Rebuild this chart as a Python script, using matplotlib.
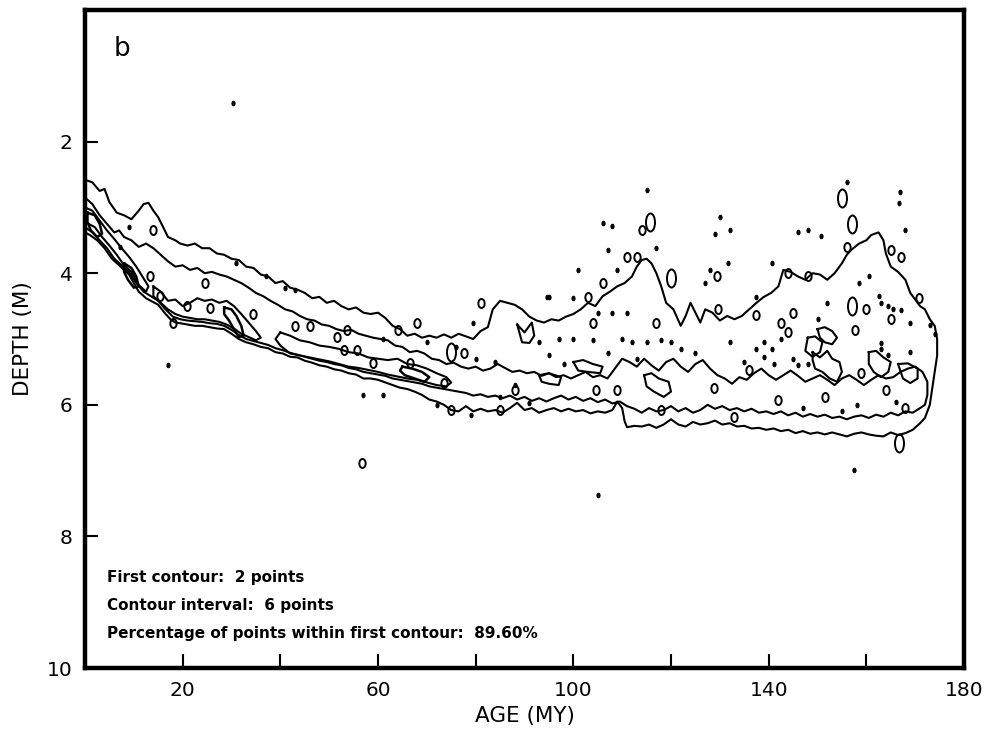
#! /usr/bin/env python
# -*- coding: utf-8 -*-

# Contour plot of ocean depth against crustal age (panel b).
# Contour lines are stored as (age, depth) vertex lists.

import matplotlib
matplotlib.use("Agg")
import matplotlib.pyplot as plt
import numpy as np
from matplotlib.path import Path
from matplotlib.transforms import Affine2D

# first contour (2 points): upper edge, left to right
outer_top = [
    (0, 2.58), (1.5, 2.62), (3, 2.75), (4, 2.72), (5, 2.92), (6.5, 3.08), (8, 3.12),
    (9.5, 3.18), (11, 3.05), (12, 2.95), (13, 2.93), (14, 3.05), (15, 3.15), (16, 3.3),
    (17, 3.45), (18.5, 3.5), (19.5, 3.55), (21, 3.58), (22.5, 3.55), (24, 3.62),
    (25.5, 3.62), (27, 3.7), (28.5, 3.72), (30, 3.78), (31.5, 3.8), (33, 3.9),
    (34.5, 3.92), (36, 4.02), (37.5, 4.05), (39, 4.15), (40.5, 4.12), (42, 4.22),
    (43.5, 4.25), (45, 4.3), (46.5, 4.38), (48, 4.36), (49.5, 4.45), (51, 4.42),
    (52.5, 4.5), (54, 4.55), (55.5, 4.52), (57, 4.6), (58.5, 4.62), (60, 4.6),
    (61.5, 4.68), (63, 4.8), (64.5, 4.85), (66, 4.95), (67.5, 4.92), (69, 4.98),
    (70.5, 4.95), (72, 4.98), (73.5, 4.93), (75, 4.98), (76.5, 4.92), (78, 4.96),
    (79.5, 5.0), (81, 4.88), (82.5, 4.82), (83.5, 4.55), (85, 4.42), (86.5, 4.45),
    (88, 4.48), (89.5, 4.55), (91, 4.66), (92.5, 4.72), (94, 4.75), (95.5, 4.7),
    (97, 4.72), (98.5, 4.66), (100, 4.62), (101.5, 4.55), (103, 4.45), (104.5, 4.5),
    (106, 4.35), (107.5, 4.28), (109, 4.2), (110.5, 4.15), (112, 4.05), (113, 3.9),
    (114, 3.8), (115, 3.78), (116, 3.85), (117, 4.0), (118, 4.2), (119, 4.45),
    (120.5, 4.55), (122, 4.8), (123, 4.65), (124, 4.45), (125, 4.6), (126, 4.75),
    (127, 4.55), (128.5, 4.6), (130, 4.72), (131.5, 4.65), (133, 4.7), (134.5, 4.65),
    (136, 4.55), (137.5, 4.45), (139, 4.36), (140.5, 4.3), (142, 4.2), (143, 3.95),
    (144.5, 3.98), (146, 4.05), (147.5, 4.1), (149, 4.0), (150.5, 4.02), (152, 4.1),
    (153.5, 4.0), (155, 3.85), (156, 3.72), (157, 3.64), (158.5, 3.55), (160, 3.5),
    (161, 3.42), (162.5, 3.38), (163.5, 3.5), (164, 3.7), (165, 3.9), (166.5, 3.98),
    (168, 4.1), (169, 4.3), (170, 4.4), (171, 4.5), (172, 4.55), (173, 4.7),
    (174, 4.8), (174.5, 5.0), (174.5, 5.25), (174, 5.5), (173.5, 5.75), (173, 6.0),
    (172, 6.2), (171, 6.28),
]
# first contour: lower edge, right to left
outer_bottom = [
    (169.5, 6.38), (168, 6.43), (166.5, 6.46), (165, 6.42), (163.5, 6.48), (162, 6.47),
    (160.5, 6.45), (159, 6.42), (157.5, 6.44), (156, 6.48), (154.5, 6.45), (153, 6.42),
    (151.5, 6.45), (150, 6.42), (148.5, 6.44), (147, 6.4), (145.5, 6.43), (144, 6.38),
    (142.5, 6.4), (141, 6.36), (139.5, 6.38), (138, 6.35), (136.5, 6.36), (135, 6.32),
    (133.5, 6.33), (132, 6.28), (130.5, 6.3), (129, 6.24), (127.5, 6.28), (126, 6.3),
    (124.5, 6.26), (123, 6.33), (121.5, 6.3), (120, 6.22), (118.5, 6.3), (117, 6.35),
    (115.5, 6.3), (114, 6.33), (112.5, 6.32), (111, 6.34), (110.5, 6.25), (110, 6.05),
    (109, 5.95), (108, 6.08), (106.5, 6.12), (105, 6.1), (103.5, 6.13), (102, 6.08),
    (100.5, 6.1), (99, 6.06), (97.5, 6.1), (96, 6.05), (94.5, 6.08), (93, 6.12),
    (91.5, 6.05), (90, 6.08), (88.5, 5.97), (87, 6.05), (85.5, 6.12), (84, 6.08),
    (82.5, 6.1), (81, 6.06), (79.5, 6.1), (78, 6.02), (76.5, 6.1), (75, 6.08),
    (73.5, 6.0), (72, 5.95), (70.5, 5.92), (69, 5.85), (67.5, 5.8), (66, 5.76),
    (64.5, 5.74), (63, 5.7), (61.5, 5.66), (60, 5.62), (58.5, 5.6), (57, 5.6),
    (55.5, 5.54), (54, 5.52), (52.5, 5.48), (51, 5.46), (49.5, 5.42), (48, 5.4),
    (46.5, 5.36), (45, 5.33), (43.5, 5.28), (42, 5.27), (40.5, 5.22), (39, 5.2),
    (37.5, 5.14), (36, 5.12), (34.5, 5.08), (33, 5.05), (31.5, 5.0), (30, 4.92),
    (28.5, 4.85), (27, 4.84), (25.5, 4.82), (24, 4.8), (22.5, 4.8), (21, 4.78),
    (19.5, 4.76), (18.5, 4.75), (17.5, 4.7), (16.5, 4.62), (15, 4.48), (13.5, 4.42),
    (12.5, 4.38), (11, 4.28), (10, 4.15), (9, 4.02), (8, 3.95), (7, 3.88), (5.5, 3.78),
    (4, 3.62), (2.5, 3.5), (1, 3.42), (0, 3.38),
]

# second contour (8 points): upper edge, left to right
second_top = [
    (0, 2.85), (1.5, 2.95), (3, 3.12), (4.5, 3.25), (6, 3.38), (7, 3.35), (8, 3.45),
    (9.5, 3.5), (11, 3.6), (12.5, 3.55), (14, 3.62), (15.5, 3.72), (17, 3.82),
    (18.5, 3.9), (20, 3.88), (21.5, 3.95), (23, 3.92), (24.5, 4.0), (26, 3.98),
    (27.5, 4.02), (29, 4.05), (30.5, 4.1), (32, 4.15), (33.5, 4.22), (35, 4.3),
    (36.5, 4.35), (38, 4.42), (39.5, 4.48), (41, 4.55), (42.5, 4.58), (44, 4.65),
    (45.5, 4.7), (47, 4.72), (48.5, 4.78), (50, 4.8), (51.5, 4.85), (53, 4.88),
    (54.5, 4.86), (56, 4.92), (57.5, 4.95), (59, 4.98), (60.5, 5.0), (62, 5.02),
    (63.5, 5.1), (65, 5.12), (66.5, 5.2), (68, 5.18), (69.5, 5.22), (71, 5.3),
    (72.5, 5.32), (74, 5.38), (75.5, 5.36), (77, 5.42), (78.5, 5.45), (80, 5.42),
    (81.5, 5.48), (83, 5.45), (84.5, 5.38), (86, 5.44), (87.5, 5.5), (89, 5.48),
    (90.5, 5.52), (92, 5.5), (93.5, 5.56), (95, 5.52), (96.5, 5.58), (98, 5.55),
    (99.5, 5.6), (101, 5.55), (102.5, 5.5), (104, 5.58), (105.5, 5.55), (107, 5.6),
    (108.5, 5.45), (110, 5.3), (111.5, 5.35), (113, 5.42), (114.5, 5.3), (116, 5.4),
    (117.5, 5.48), (119, 5.35), (120.5, 5.3), (122, 5.42), (123.5, 5.5), (125, 5.38),
    (126.5, 5.32), (128, 5.45), (129.5, 5.55), (131, 5.6), (132.5, 5.68), (134, 5.58),
    (135.5, 5.62), (137, 5.52), (138.5, 5.45), (140, 5.55), (141.5, 5.62), (143, 5.55),
    (144.5, 5.48), (146, 5.56), (147.5, 5.65), (149, 5.6), (150.5, 5.55), (152, 5.62),
    (153.5, 5.7), (155, 5.6), (156.5, 5.55), (158, 5.62), (159.5, 5.7), (161, 5.62),
    (162.5, 5.55), (164, 5.6), (165.5, 5.58), (167, 5.5), (168.5, 5.45), (170, 5.42),
    (171.5, 5.5), (172.5, 5.65), (172.5, 5.85), (172, 6.0), (171, 6.05),
]
# second contour: lower edge, right to left
second_bottom = [
    (169.5, 6.12), (168, 6.1), (166.5, 6.16), (165, 6.12), (163.5, 6.18), (162, 6.15),
    (160.5, 6.2), (159, 6.16), (157.5, 6.18), (156, 6.22), (154.5, 6.18), (153, 6.2),
    (151.5, 6.15), (150, 6.18), (148.5, 6.14), (147, 6.18), (145.5, 6.12), (144, 6.16),
    (142.5, 6.1), (141, 6.14), (139.5, 6.1), (138, 6.12), (136.5, 6.06), (135, 6.1),
    (133.5, 6.05), (132, 6.08), (130.5, 6.02), (129, 6.06), (127.5, 6.0), (126, 6.08),
    (124.5, 6.12), (123, 6.05), (121.5, 6.1), (120, 6.02), (118.5, 6.08), (117, 6.1),
    (115.5, 6.05), (114, 6.12), (112.5, 6.06), (111, 6.02), (109.5, 5.95), (108, 5.98),
    (106.5, 5.92), (105, 5.96), (103.5, 5.9), (102, 5.94), (100.5, 5.88), (99, 5.92),
    (97.5, 5.86), (96, 5.9), (94.5, 5.95), (93, 5.9), (91.5, 5.94), (90, 5.88),
    (88.5, 5.92), (87, 5.86), (85.5, 5.9), (84, 5.86), (82.5, 5.88), (81, 5.84),
    (79.5, 5.86), (78, 5.82), (76.5, 5.8), (75, 5.78), (73.5, 5.76), (72, 5.74),
    (70.5, 5.72), (69, 5.68), (67.5, 5.66), (66, 5.64), (64.5, 5.62), (63, 5.6),
    (61.5, 5.56), (60, 5.54), (58.5, 5.52), (57, 5.5), (55.5, 5.46), (54, 5.44),
    (52.5, 5.4), (51, 5.38), (49.5, 5.35), (48, 5.33), (46.5, 5.3), (45, 5.27),
    (43.5, 5.24), (42, 5.21), (40.5, 5.17), (39, 5.14), (37.5, 5.09), (36, 5.06),
    (34.5, 5.03), (33, 5.0), (31.5, 4.94), (30, 4.86), (28.5, 4.8), (27, 4.77),
    (25.5, 4.76), (24, 4.74), (22.5, 4.73), (21, 4.72), (19.5, 4.7), (18, 4.66),
    (16.5, 4.55), (15, 4.42), (13.5, 4.35), (12, 4.28), (10.5, 4.15), (9, 3.98),
    (7.5, 3.88), (6, 3.78), (4.5, 3.62), (3, 3.5), (1.5, 3.38), (0, 3.3),
]

# third contour (14 points): closed loops
third_loops = [
    [(0, 3.0), (1.5, 3.05), (3, 3.2), (4.5, 3.35), (6, 3.48), (7.5, 3.62), (9, 3.75),
     (10.5, 3.9), (12, 4.08), (13, 4.2), (12.5, 4.28), (11, 4.18), (9.5, 3.98),
     (8, 3.88), (6.5, 3.72), (5, 3.58), (3.5, 3.45), (2, 3.3), (0, 3.22)],
    [(14, 4.2), (15.5, 4.28), (17, 4.42), (18.5, 4.4), (20, 4.5), (21.5, 4.45),
     (23, 4.38), (24.5, 4.42), (26, 4.4), (27.5, 4.45), (29, 4.42), (30.5, 4.5),
     (32, 4.62), (33.5, 4.75), (35, 4.88), (36, 4.98), (35, 5.02), (33.5, 4.97),
     (32, 4.92), (30.5, 4.84), (29, 4.78), (27.5, 4.74), (26, 4.72), (24.5, 4.7),
     (23, 4.7), (21.5, 4.68), (20, 4.66), (18.5, 4.62), (17, 4.55), (15.5, 4.45),
     (14, 4.35)],
    [(40, 4.9), (42, 4.95), (44, 5.02), (46, 5.05), (48, 5.1), (50, 5.12), (52, 5.15),
     (54, 5.2), (56, 5.22), (58, 5.28), (60, 5.3), (62, 5.32), (64, 5.3), (66, 5.38),
     (68, 5.4), (70, 5.45), (72, 5.52), (74, 5.58), (75, 5.66), (74, 5.72), (72, 5.7),
     (70, 5.66), (68, 5.62), (66, 5.6), (64, 5.57), (62, 5.54), (60, 5.5), (58, 5.47),
     (56, 5.44), (54, 5.42), (52, 5.38), (50, 5.34), (48, 5.31), (46, 5.28),
     (44, 5.25), (42, 5.22), (40, 5.1), (39, 5.0)],
]

# fourth contour (20 points): closed loops
fourth_loops = [
    [(0.5, 3.08), (2, 3.12), (3, 3.25), (3.5, 3.4), (2.5, 3.45), (1.2, 3.35), (0.5, 3.22)],
    [(8, 3.85), (9.5, 3.92), (10.5, 4.05), (11, 4.2), (10, 4.22), (8.8, 4.1), (8, 3.98)],
    [(28.5, 4.52), (30, 4.55), (31, 4.65), (32, 4.8), (32.5, 4.95), (31.5, 4.97),
     (30.5, 4.85), (29.5, 4.72), (28.5, 4.62)],
    [(65, 5.42), (67, 5.45), (69, 5.5), (70.5, 5.58), (69.5, 5.65), (67.5, 5.6),
     (65.5, 5.55), (64.5, 5.48)],
]

# larger irregular loops inside the ragged old-crust region
patch_loops = [
    [(150, 4.85), (151.5, 4.82), (153, 4.88), (154, 4.98), (153, 5.08), (151.5, 5.05),
     (150.5, 4.98)],
    [(148, 4.98), (149.5, 4.96), (151, 5.05), (150.5, 5.2), (149, 5.27), (147.5, 5.18)],
    [(149, 5.2), (150.5, 5.28), (152, 5.18), (153, 5.3), (154.5, 5.35), (155, 5.5),
     (154, 5.65), (152.5, 5.6), (151, 5.5), (149.5, 5.45), (149, 5.32)],
    [(160.5, 5.2), (162, 5.18), (163.5, 5.28), (165, 5.35), (164.5, 5.5), (163, 5.58),
     (161.5, 5.5), (160.5, 5.38)],
    [(166.5, 5.38), (168.5, 5.37), (170.5, 5.45), (170.5, 5.6), (169, 5.67), (167.5, 5.6)],
    [(114.5, 5.55), (116, 5.52), (117.5, 5.6), (119.5, 5.65), (120, 5.8), (118.5, 5.88),
     (116.5, 5.8), (115, 5.72)],
    [(100, 5.35), (102, 5.32), (104, 5.38), (106, 5.42), (105.5, 5.52), (103, 5.5),
     (101, 5.48)],
    [(93, 5.55), (95, 5.52), (97.5, 5.58), (97, 5.7), (95, 5.68), (93.5, 5.65)],
    [(88.5, 4.78), (90, 4.9), (91.5, 4.75), (92, 4.95), (91, 5.06), (89.5, 5.05)],
]

# small closed islands of the first contour
island_age = [14, 13.3, 20.8, 25.5, 15.3, 18, 24.5, 34.5, 43, 46, 51.6, 53, 59, 53.6,
              55.7, 66.6, 64, 68, 77.6, 73.5, 75, 85, 81, 56.8, 104.6,
              109, 88, 128.8, 133, 118, 104, 117, 129.6, 129.5, 103, 106,
              111, 113, 114, 156, 165, 167, 170.7, 148, 144, 145, 137.5, 142.6, 144,
              157.7, 160, 165, 159, 136, 142, 151.5, 164, 168]
island_depth = [3.34, 4.05, 4.5, 4.53, 4.35, 4.76, 4.15, 4.62, 4.8, 4.8, 4.97, 5.16,
                5.37, 4.86, 5.17, 5.37, 4.86, 4.76, 5.22, 5.67, 6.08, 6.08, 4.45,
                6.88, 5.77, 5.77, 5.77, 5.74, 6.18, 6.08, 4.75,
                4.75, 4.55, 4.05, 4.36, 4.15, 3.76, 3.76, 3.34, 3.6, 3.64, 3.76, 4.37,
                4.05, 4.0, 4.6, 4.63, 4.75, 4.9, 4.86, 4.55, 4.7,
                5.52, 5.47, 5.92, 5.88, 5.77, 6.05]

# taller islands
tall_age = [155, 157, 166.6, 120, 157, 75, 115.8]
tall_depth = [2.86, 3.25, 6.58, 4.07, 4.5, 5.2, 3.22]

# single grid cells reaching the first contour
dot_age = [30.3, 17, 105, 157.4, 9, 7.2, 31, 37, 41, 43, 115, 108, 106, 117, 107, 109,
           101, 95, 100, 130, 132, 129, 131.7, 128, 127, 150.8, 146, 148, 156, 166.6,
           166.8, 168, 140.6, 137.5, 160.5, 158.5, 162.5, 163, 164.5, 165.5, 167, 169,
           173, 174, 139, 140.6, 142.6, 137.5, 139, 141, 145, 146, 148, 163, 163, 164.5,
           169, 93, 97, 100, 104, 110, 112, 115, 118, 120, 105, 108, 111, 61, 79.4, 85,
           88, 94.7, 61, 70, 76, 80, 84, 72, 79, 91, 57, 95, 98, 113, 107, 125, 132,
           135, 152, 150, 166, 158, 147, 155, 122]
dot_depth = [1.42, 5.39, 7.37, 6.99, 3.3, 3.6, 3.85, 4.05, 4.23, 4.25, 2.73, 3.29, 3.24,
             3.61, 3.64, 3.95, 3.95, 4.36, 4.37, 3.14, 3.34, 3.41, 3.84, 3.95, 4.15,
             3.44, 3.37, 3.34, 2.62, 2.93, 2.76, 3.34, 3.85, 4.36, 4.05, 4.15, 4.35,
             4.45, 4.5, 4.55, 4.56, 4.75, 4.78, 4.93, 5.05, 5.15, 5.0, 5.15, 5.28, 5.38,
             5.3, 5.4, 5.38, 5.06, 5.15, 5.25, 5.2, 5.05, 5.0, 5.0, 5.02, 5.0, 5.05,
             5.05, 5.02, 5.05, 4.6, 4.6, 4.6, 5.85, 4.75, 5.88, 5.7, 4.36, 5.0, 5.05,
             5.12, 5.3, 5.35, 6.0, 6.15, 5.98, 5.85, 5.25, 5.38, 5.3, 5.22, 5.22, 5.05,
             5.35, 4.45, 4.7, 5.95, 6.0, 6.05, 6.1, 5.15]

age_labels = [20, 60, 100, 140, 180]
age_minor = [40, 80, 120, 160]
depth_labels = [2, 4, 6, 8, 10]

notes = ["First contour:  2 points",
         "Contour interval:  6 points",
         "Percentage of points within first contour:  89.60%"]


def draw_loop(ax, pts, lw=1.5):
    """
    Draw one closed contour line.
    :param pts: list of (age, depth) vertices
    """
    a = np.array([p[0] for p in pts] + [pts[0][0]])
    d = np.array([p[1] for p in pts] + [pts[0][1]])
    ax.plot(a, d, color="black", lw=lw, solid_joinstyle="round")


def generate_contour_plot():
    plt.rcParams["font.family"] = ["DejaVu Sans"]

    fig = plt.figure(figsize=(9.95, 7.4), dpi=100)
    ax = fig.add_axes([85 / 995, 72 / 740, 879 / 995, 658 / 740])

    draw_loop(ax, outer_top + outer_bottom)
    draw_loop(ax, second_top + second_bottom)
    for loop in third_loops:
        draw_loop(ax, loop)
    for loop in fourth_loops:
        draw_loop(ax, loop, lw=1.8)
    for loop in patch_loops:
        draw_loop(ax, loop)

    oval = Path.unit_circle().transformed(Affine2D().scale(0.7, 1.0))
    tall = Path.unit_circle().transformed(Affine2D().scale(0.5, 1.0))
    ax.plot(island_age, island_depth, ls="none", marker=oval, ms=6.5,
            mfc="none", mec="black", mew=1.4)
    ax.plot(tall_age, tall_depth, ls="none", marker=tall, ms=13,
            mfc="none", mec="black", mew=1.4)
    ax.plot(dot_age, dot_depth, ls="none", marker=oval, ms=3.4,
            mfc="black", mec="black", mew=0.6)

    ax.set_xlim(0, 180)
    ax.set_ylim(10, 0)
    ax.set_xticks(age_labels)
    ax.set_xticks(age_minor, minor=True)
    ax.set_yticks(depth_labels)
    ax.tick_params(axis="both", which="both", direction="in", length=10, width=1.5,
                   labelsize=14.5, pad=9)
    ax.tick_params(axis="y", length=9)
    ax.tick_params(top=False, right=False)
    for s in ax.spines.values():
        s.set_linewidth(3.2)

    ax.set_xlabel("AGE (MY)", fontsize=15.5, labelpad=5)
    ax.set_ylabel("DEPTH (M)", fontsize=15.5, labelpad=10)

    ax.text(0.042, 0.94, "b", transform=ax.transAxes, fontsize=19,
            ha="center", va="center")
    for i, line in enumerate(notes):
        ax.text(0.025, 0.138 - i * 0.043, line, transform=ax.transAxes,
                fontsize=11, fontweight="bold", va="center")

    fig.savefig("out.png", dpi=100)


if __name__ == "__main__":
    generate_contour_plot()
